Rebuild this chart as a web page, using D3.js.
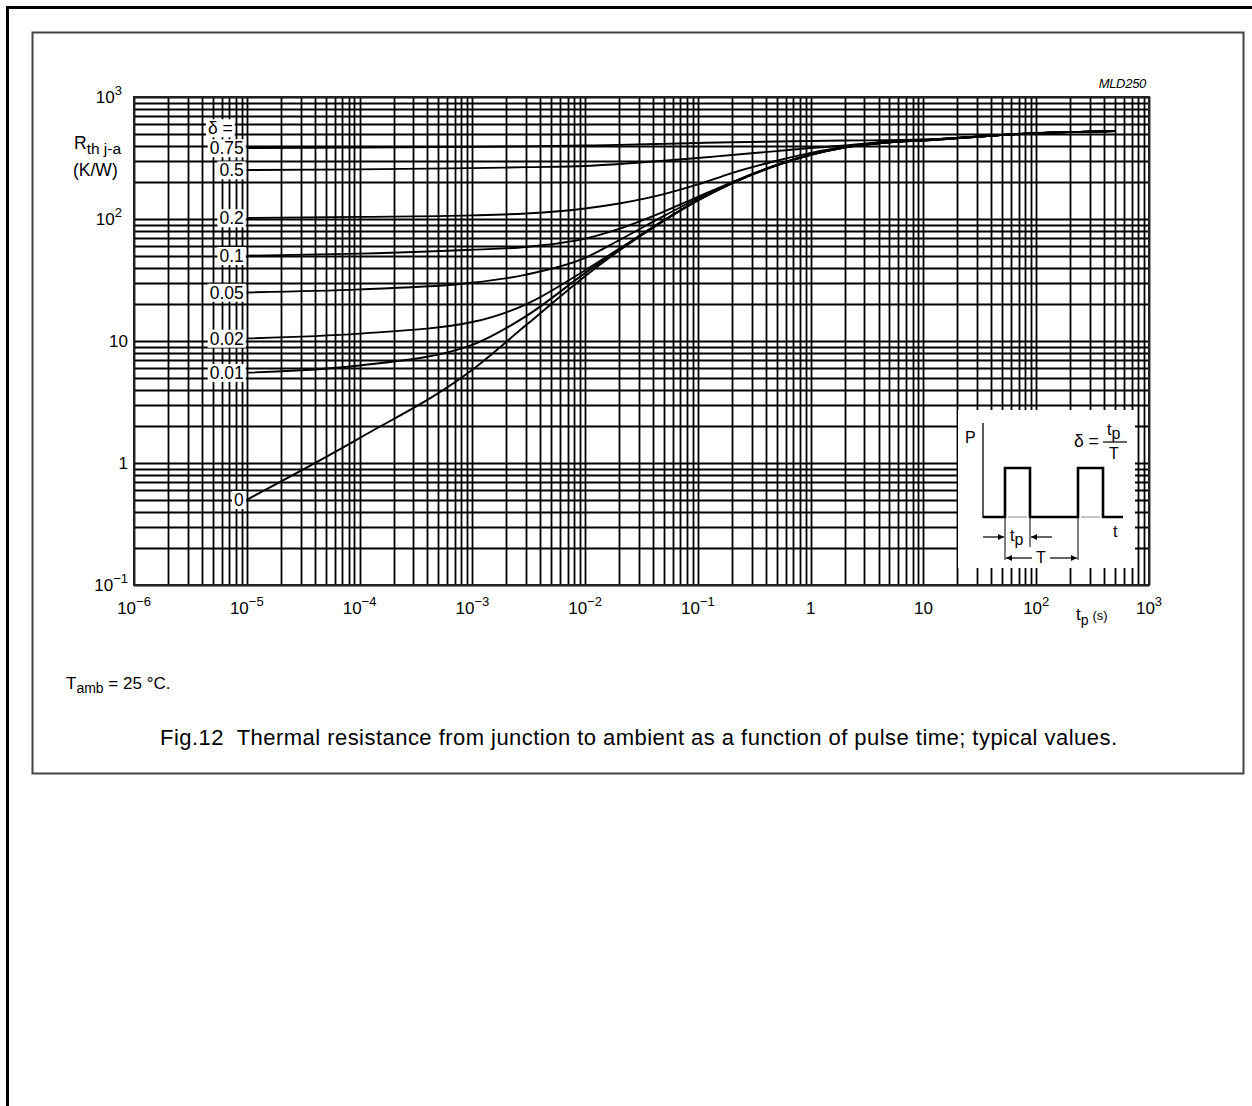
<!DOCTYPE html>
<html>
<head>
<meta charset="utf-8">
<script src="https://cdn.jsdelivr.net/npm/d3@7"></script>
<style>
  body { margin: 0; background: #fff; }
  svg { display: block; font-family: "Liberation Sans", Arial, sans-serif; }
</style>
</head>
<body>
<script>
// pulse times (s) at which the curves were read
const tp = [1e-5, 1e-4, 1e-3, 3e-3, 1e-2, 2e-2, 5e-2, 1e-1, 2e-1, 5e-1, 1, 2, 5, 10, 100, 500];

// Rth j-a (K/W) per duty cycle
const d075 = [382, 386, 390, 394, 400, 405, 413, 420, 426, 432, 436, 440, 442, 448, 507, 525];
const d050 = [252, 255, 261, 266, 272, 282, 300, 316, 335, 360, 382, 400, 432, 446, 506, 525];
const d020 = [102, 104, 107, 111, 122, 134, 160, 192, 238, 300, 348, 392, 430, 444, 505, 525];
const d010 = [50, 52, 56, 59, 69, 83, 115, 152, 200, 278, 338, 388, 428, 443, 505, 525];
const d005 = [25, 26.5, 30, 35, 48, 67, 106, 148, 199, 277, 337, 387, 427, 442, 505, 525];
const d002 = [10.5, 11.5, 14.3, 20, 38, 57, 98, 143, 197, 276, 336, 386, 426, 441, 505, 525];
const d001 = [5.5, 6.3, 9.3, 16, 36, 56, 97, 142, 196, 275, 335, 385, 425, 440, 505, 525];
const d000 = [0.5, 1.6, 5.8, 13.5, 34, 55, 97, 142, 196, 275, 335, 385, 425, 440, 505, 525];

const deltaLabels = ['0.75', '0.5', '0.2', '0.1', '0.05', '0.02', '0.01', '0'];
const series = [d075, d050, d020, d010, d005, d002, d001, d000];

const xTicks = [1e-6, 1e-5, 1e-4, 1e-3, 1e-2, 1e-1, 1, 10, 100, 1000];
const xTickLabels = [['10', '−6'], ['10', '−5'], ['10', '−4'], ['10', '−3'], ['10', '−2'], ['10', '−1'], ['1', ''], ['10', ''], ['10', '2'], ['10', '3']];
const yTicks = [0.1, 1, 10, 100, 1000];
const yTickLabels = [['10', '−1'], ['1', ''], ['10', ''], ['10', '2'], ['10', '3']];

const W = 1252, H = 1106;
const svg = d3.select('body').append('svg')
  .attr('width', W)
  .attr('height', H);

// page frame
svg.append('path')
  .attr('d', 'M7.5,' + H + 'V7.5H' + W)
  .attr('fill', 'none')
  .attr('stroke', '#000')
  .attr('stroke-width', 3);
svg.append('rect')
  .attr('x', 32.5).attr('y', 32.5)
  .attr('width', 1211).attr('height', 741)
  .attr('fill', 'none')
  .attr('stroke', '#444')
  .attr('stroke-width', 2);

const x = d3.scaleLog().domain([1e-6, 1e3]).range([134, 1149]);
const y = d3.scaleLog().domain([0.1, 1e3]).range([585, 97]);

// grid (1..9 per decade)
const gx = [], gy = [];
for (let e = -6; e < 3; e++) for (let k = 2; k <= 9; k++) gx.push(k * Math.pow(10, e));
for (let e = -1; e < 3; e++) for (let k = 2; k <= 9; k++) gy.push(k * Math.pow(10, e));
xTicks.forEach(v => gx.push(v));
yTicks.forEach(v => gy.push(v));

const grid = svg.append('g').attr('stroke', '#000').attr('stroke-width', 1.8);
grid.selectAll('.vx').data(gx).enter().append('line')
  .attr('x1', d => Math.round(x(d)) + 0.5).attr('x2', d => Math.round(x(d)) + 0.5)
  .attr('y1', y(0.1)).attr('y2', y(1000));
grid.selectAll('.hy').data(gy).enter().append('line')
  .attr('y1', d => Math.round(y(d)) + 0.5).attr('y2', d => Math.round(y(d)) + 0.5)
  .attr('x1', x(1e-6)).attr('x2', x(1e3));

// inset covers grid
const inset = svg.append('g').attr('transform', 'translate(958,410)');
inset.append('rect')
  .attr('width', 177).attr('height', 158)
  .attr('fill', '#fff');

svg.append('rect')
  .attr('x', x(1e-6)).attr('y', y(1000))
  .attr('width', x(1e3) - x(1e-6)).attr('height', y(0.1) - y(1000))
  .attr('fill', 'none')
  .attr('stroke', '#222')
  .attr('stroke-width', 2);

// curves
const line = d3.line()
  .x((d, i) => x(tp[i]))
  .y(d => y(d))
  .curve(d3.curveMonotoneX);

svg.append('g').selectAll('path').data(series).enter().append('path')
  .attr('d', line)
  .attr('fill', 'none')
  .attr('stroke', '#000')
  .attr('stroke-width', 1.9);

// curve labels with white boxes
const labG = svg.append('g').attr('font-size', 17.5);
function boxedLabel(txt, px, py) {
  const g = labG.append('g');
  const t = g.append('text')
    .attr('x', px).attr('y', py)
    .attr('dy', '0.36em')
    .attr('text-anchor', 'end')
    .attr('fill', '#000')
    .text(txt);
  const b = t.node().getBBox();
  g.insert('rect', 'text')
    .attr('x', b.x - 2).attr('y', b.y + 1)
    .attr('width', b.width + 4).attr('height', b.height - 2)
    .attr('fill', '#fff');
}
boxedLabel('δ =', x(1e-5) - 14, y(d075[0]) - 20);
series.forEach((s, i) => boxedLabel(deltaLabels[i], x(1e-5) - 3, y(s[0])));

// tick labels
function powLabel(sel, base, exp) {
  sel.append('tspan').text(base);
  if (exp) sel.append('tspan').attr('font-size', 13).attr('dy', -8).text(exp);
}
const tickG = svg.append('g').attr('font-size', 17).attr('fill', '#000');
yTicks.forEach((v, i) => {
  const lab = yTickLabels[i];
  const t = tickG.append('text')
    .attr('x', lab[1] && lab[1][0] !== '−' ? 122 : 128)
    .attr('y', y(v) + 6)
    .attr('text-anchor', 'end');
  powLabel(t, lab[0], lab[1]);
});
xTicks.forEach((v, i) => {
  const t = tickG.append('text')
    .attr('x', x(v)).attr('y', 614)
    .attr('text-anchor', 'middle');
  powLabel(t, xTickLabels[i][0], xTickLabels[i][1]);
});

// axis titles
const yt = svg.append('text').attr('x', 74).attr('y', 149).attr('font-size', 17.5);
yt.append('tspan').text('R');
yt.append('tspan').attr('font-size', 15.5).attr('dy', 5).text('th j-a');
svg.append('text').attr('x', 73).attr('y', 176).attr('font-size', 17.5).text('(K/W)');

const xt = svg.append('text').attr('x', 1076).attr('y', 620).attr('font-size', 17);
xt.append('tspan').text('t');
xt.append('tspan').attr('font-size', 14).attr('dy', 5).text('p');
xt.append('tspan').attr('font-size', 13).attr('dy', -5).attr('dx', 4).text('(s)');

svg.append('text')
  .attr('x', 1146).attr('y', 88)
  .attr('text-anchor', 'end')
  .attr('font-size', 13)
  .attr('font-style', 'italic')
  .attr('letter-spacing', -0.3)
  .text('MLD250');

// inset: pulse diagram
inset.append('text').attr('x', 7).attr('y', 33).attr('font-size', 16).text('P');
inset.append('line').attr('x1', 25).attr('x2', 25).attr('y1', 13).attr('y2', 108)
  .attr('stroke', '#000').attr('stroke-width', 1.3);
inset.append('path')
  .attr('d', 'M25,107H47V58H72V107H120V58H145V107H165')
  .attr('fill', 'none').attr('stroke', '#000').attr('stroke-width', 2.6);
inset.append('path')
  .attr('d', 'M50,107H69M123,107H142')
  .attr('stroke', '#888').attr('stroke-width', 1);
inset.append('path')
  .attr('d', 'M47,108V150M72,108V137M120,108V150')
  .attr('stroke', '#000').attr('stroke-width', 1);

const defs = svg.append('defs');
defs.append('marker')
  .attr('id', 'ah')
  .attr('viewBox', '0 0 10 10')
  .attr('refX', 10).attr('refY', 5)
  .attr('markerWidth', 9).attr('markerHeight', 6)
  .attr('markerUnits', 'userSpaceOnUse')
  .attr('orient', 'auto')
  .append('path').attr('d', 'M0,0L10,5L0,10Z').attr('fill', '#000');

function arrow(x1, y1, x2, y2) {
  inset.append('line')
    .attr('x1', x1).attr('y1', y1).attr('x2', x2).attr('y2', y2)
    .attr('stroke', '#000').attr('stroke-width', 1.2)
    .attr('marker-end', 'url(#ah)');
}
arrow(25, 127, 46, 127);
arrow(94, 127, 73, 127);
arrow(74, 148, 48, 148);
arrow(92, 148, 119, 148);

const tpl = inset.append('text').attr('x', 52).attr('y', 131).attr('font-size', 16);
tpl.append('tspan').text('t');
tpl.append('tspan').attr('dy', 4).text('p');
inset.append('text').attr('x', 83).attr('y', 153).attr('font-size', 16)
  .attr('text-anchor', 'middle').text('T');
inset.append('text').attr('x', 155).attr('y', 127).attr('font-size', 16).text('t');

inset.append('text').attr('x', 116).attr('y', 37).attr('font-size', 17.5).text('δ =');
const fr = inset.append('text').attr('x', 149).attr('y', 25).attr('font-size', 16);
fr.append('tspan').text('t');
fr.append('tspan').attr('dy', 4).text('p');
inset.append('line').attr('x1', 145).attr('x2', 169).attr('y1', 32).attr('y2', 32)
  .attr('stroke', '#000').attr('stroke-width', 1.2);
inset.append('text').attr('x', 156).attr('y', 49).attr('font-size', 16)
  .attr('text-anchor', 'middle').text('T');

// notes
const ta = svg.append('text').attr('x', 66).attr('y', 689).attr('font-size', 17);
ta.append('tspan').text('T');
ta.append('tspan').attr('font-size', 14).attr('dy', 4).text('amb');
ta.append('tspan').attr('dy', -4).text(' = 25 °C.');

svg.append('text')
  .attr('x', 160).attr('y', 745)
  .attr('font-size', 22)
  .attr('textLength', 957)
  .attr('lengthAdjust', 'spacing')
  .attr('xml:space', 'preserve')
  .text('Fig.12  Thermal resistance from junction to ambient as a function of pulse time; typical values.');
</script>
</body>
</html>
